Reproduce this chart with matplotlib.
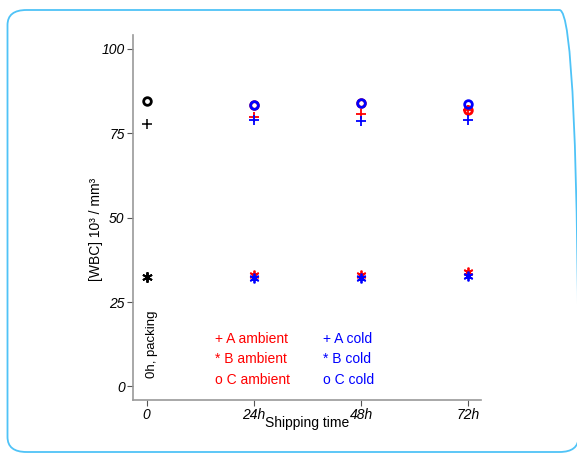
import numpy as np
import matplotlib
matplotlib.use("Agg")
import matplotlib.pyplot as plt
from matplotlib.patches import FancyBboxPatch

plt.rcParams['font.family'] = ['Liberation Sans', 'DejaVu Sans']

# ---- data ----
time_ticks = [0, 24, 48, 72]
time_labels = ["0", "24h", "48h", "72h"]
y_ticks = [0, 25, 50, 75, 100]

ship_times = [24, 48, 72]
baseline_A = 77.6
baseline_B = 32.3
baseline_C = 84.7
A_ambient = [79.8, 80.6, 81.9]
A_cold = [78.8, 78.6, 79.0]
B_ambient = [33.0, 32.9, 34.0]
B_cold = [32.1, 32.2, 32.6]
C_ambient = [83.3, 83.9, 82.0]
C_cold = [83.3, 83.9, 83.7]

legend_ambient = ["+ A ambient", "* B ambient", "o C ambient"]
legend_cold = ["+ A cold", "* B cold", "o C cold"]

RED = "#ff0000"
BLUE = "#0000ff"

fig = plt.figure(figsize=(5.77, 4.54), dpi=100)
ax = fig.add_axes([133/577, 1-400/454, (481-133)/577, (400-35)/454])

# border
border = FancyBboxPatch((7.5/577, 1-452/454), (578.5-7.5)/577, (452-10)/454,
                        boxstyle="round,pad=0,rounding_size=0.033",
                        transform=fig.transFigure, fill=False,
                        edgecolor="#4fc3f7", linewidth=1.3, clip_on=False)
fig.patches.append(border)

aster = (6, 2, 0)
ms = 7
# baseline (black)
ax.plot([0], [baseline_A], marker='+', color='black', ms=ms, mew=1.1, ls='none')
ax.plot([0], [baseline_B], marker=aster, color='black', ms=7.5, mew=1.4, ls='none')
ax.plot([0], [baseline_C], marker='o', mfc='none', mec='black', ms=5.5, mew=2, ls='none')
# ambient (red)
ax.plot(ship_times, A_ambient, marker='+', color=RED, ms=ms, mew=1.3, ls='none')
ax.plot(ship_times, B_ambient, marker=aster, color=RED, ms=7, mew=1.3, ls='none')
ax.plot(ship_times, C_ambient, marker='o', mfc='none', mec=RED, ms=5.5, mew=2, ls='none')
# cold (blue)
ax.plot(ship_times, A_cold, marker='+', color=BLUE, ms=ms, mew=1.3, ls='none')
ax.plot(ship_times, B_cold, marker=aster, color=BLUE, ms=7, mew=1.3, ls='none')
ax.plot(ship_times, C_cold, marker='o', mfc='none', mec=BLUE, ms=5.5, mew=2, ls='none')

ax.set_xlim(-3.07, 74.8)
ax.set_ylim(-4.0, 104.1)
ax.set_xticks(time_ticks)
ax.set_xticklabels(time_labels, fontstyle='italic', fontsize=10)
ax.set_yticks(y_ticks)
ax.set_yticklabels([str(v) for v in y_ticks], fontstyle='italic', fontsize=10)
ax.tick_params(axis='both', direction='out', length=4, width=0.8, color='#555555', pad=2)

for s in ['top', 'right']:
    ax.spines[s].set_visible(False)
for s in ['left', 'bottom']:
    ax.spines[s].set_color('#999999')
    ax.spines[s].set_linewidth(1.2)

ax.set_xlabel("Shipping time", fontsize=10)
ax.xaxis.set_label_coords(0.5, -0.043)
ax.xaxis.label.set_va('top')
fig.text(96/577, 1-229/454, "[WBC] 10³ / mm³", rotation=90, ha='center', va='center', fontsize=10)

ax.text(1.1, 12.5, "0h, packing", rotation=90, ha='center', va='center', fontsize=9.5)

leg_y = [14.0, 8.1, 1.9]
for t, y in zip(legend_ambient, leg_y):
    ax.text(15.3, y, t, color=RED, ha='left', va='center', fontsize=10)
for t, y in zip(legend_cold, leg_y):
    ax.text(39.5, y, t, color=BLUE, ha='left', va='center', fontsize=10)

fig.savefig("out.png", dpi=100)
